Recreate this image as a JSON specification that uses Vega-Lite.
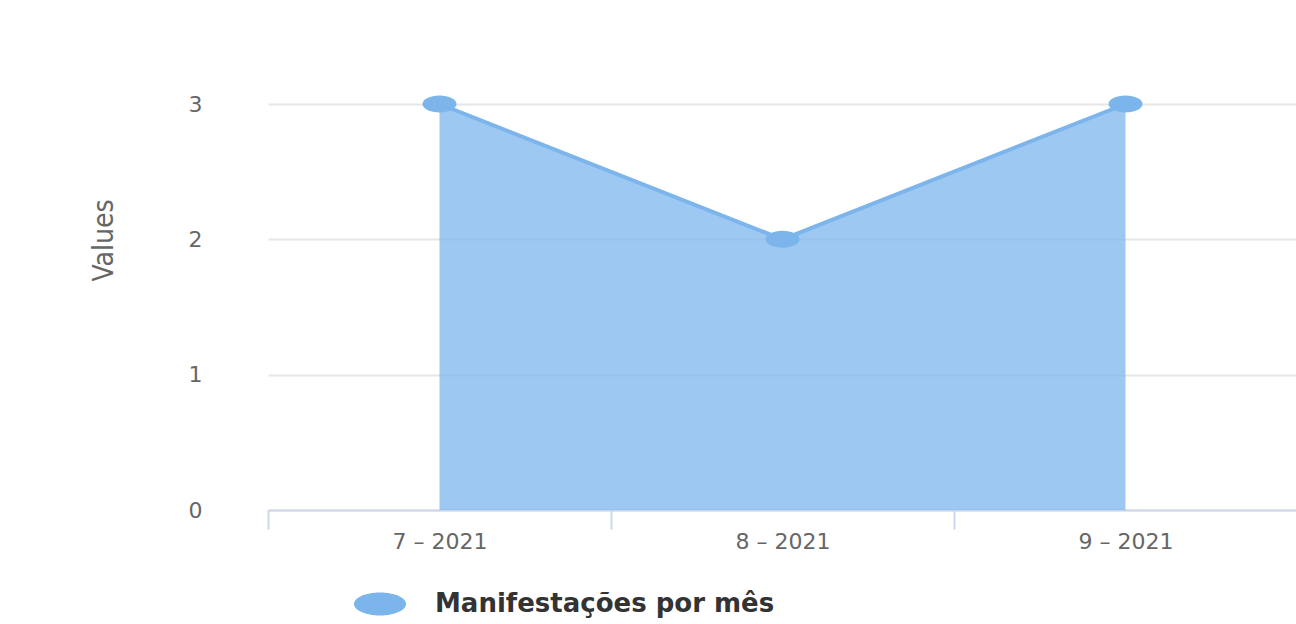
{
  "$schema": "https://vega.github.io/schema/vega-lite/v6.json",
  "width": 1029,
  "height": 406,
  "autosize": {"type": "none"},
  "padding": {"left": 268, "top": 104, "right": 0, "bottom": 114},
  "background": "white",
  "config": {"view": {"stroke": null}},
  "data": {
    "values": [
      {"mes": "7 – 2021", "valor": 3, "serie": "Manifestações por mês"},
      {"mes": "8 – 2021", "valor": 2, "serie": "Manifestações por mês"},
      {"mes": "9 – 2021", "valor": 3, "serie": "Manifestações por mês"}
    ]
  },
  "encoding": {
    "x": {
      "field": "mes",
      "type": "nominal",
      "sort": null,
      "bandPosition": 0.5,
      "scale": {"type": "band", "paddingInner": 0, "paddingOuter": 0},
      "axis": {
        "title": null,
        "labelAngle": 0,
        "grid": false,
        "domainColor": "#ccd6eb",
        "domainWidth": 2,
        "tickColor": "#ccd6eb",
        "tickWidth": 2,
        "tickSize": 19,
        "tickBand": "extent",
        "labelFont": "DejaVu Sans",
        "labelFontSize": 22,
        "labelColor": "#666666",
        "labelPadding": 2
      }
    },
    "y": {
      "field": "valor",
      "type": "quantitative",
      "scale": {"domain": [0, 3], "nice": false},
      "axis": {
        "values": [0, 1, 2, 3],
        "domain": false,
        "ticks": false,
        "grid": true,
        "gridColor": "#e6e6e6",
        "gridWidth": 2,
        "labelFont": "DejaVu Sans",
        "labelFontSize": 22,
        "labelColor": "#666666",
        "labelPadding": 66,
        "title": "Values",
        "titleFont": "DejaVu Sans Condensed, Liberation Sans, sans-serif",
        "titleFontSize": 28,
        "titleFontWeight": "normal",
        "titleColor": "#666666",
        "titleAngle": 270,
        "titleX": -164,
        "titleY": 136,
        "titleAlign": "center",
        "titleBaseline": "middle"
      }
    },
    "color": {
      "field": "serie",
      "type": "nominal",
      "scale": {"range": ["#7cb5ec"]},
      "legend": {
        "orient": "none",
        "legendX": 86,
        "legendY": 474,
        "title": null,
        "symbolType": "M-1,0A1,0.44,0,1,0,1,0A1,0.44,0,1,0,-1,0Z",
        "symbolSize": 2704,
        "symbolFillColor": "#7cb5ec",
        "symbolStrokeWidth": 0,
        "symbolOpacity": 1,
        "labelFont": "DejaVu Sans",
        "labelFontSize": 26,
        "labelFontWeight": "bold",
        "labelColor": "#333333",
        "labelOffset": 29,
        "labelLimit": 0
      }
    }
  },
  "layer": [
    {"mark": {"type": "area", "fillOpacity": 0.75}},
    {"mark": {"type": "line", "strokeWidth": 4}},
    {"mark": {"type": "point", "filled": true, "opacity": 1, "size": 1156, "shape": "M-1,0A1,0.5,0,1,0,1,0A1,0.5,0,1,0,-1,0Z"}}
  ]
}
